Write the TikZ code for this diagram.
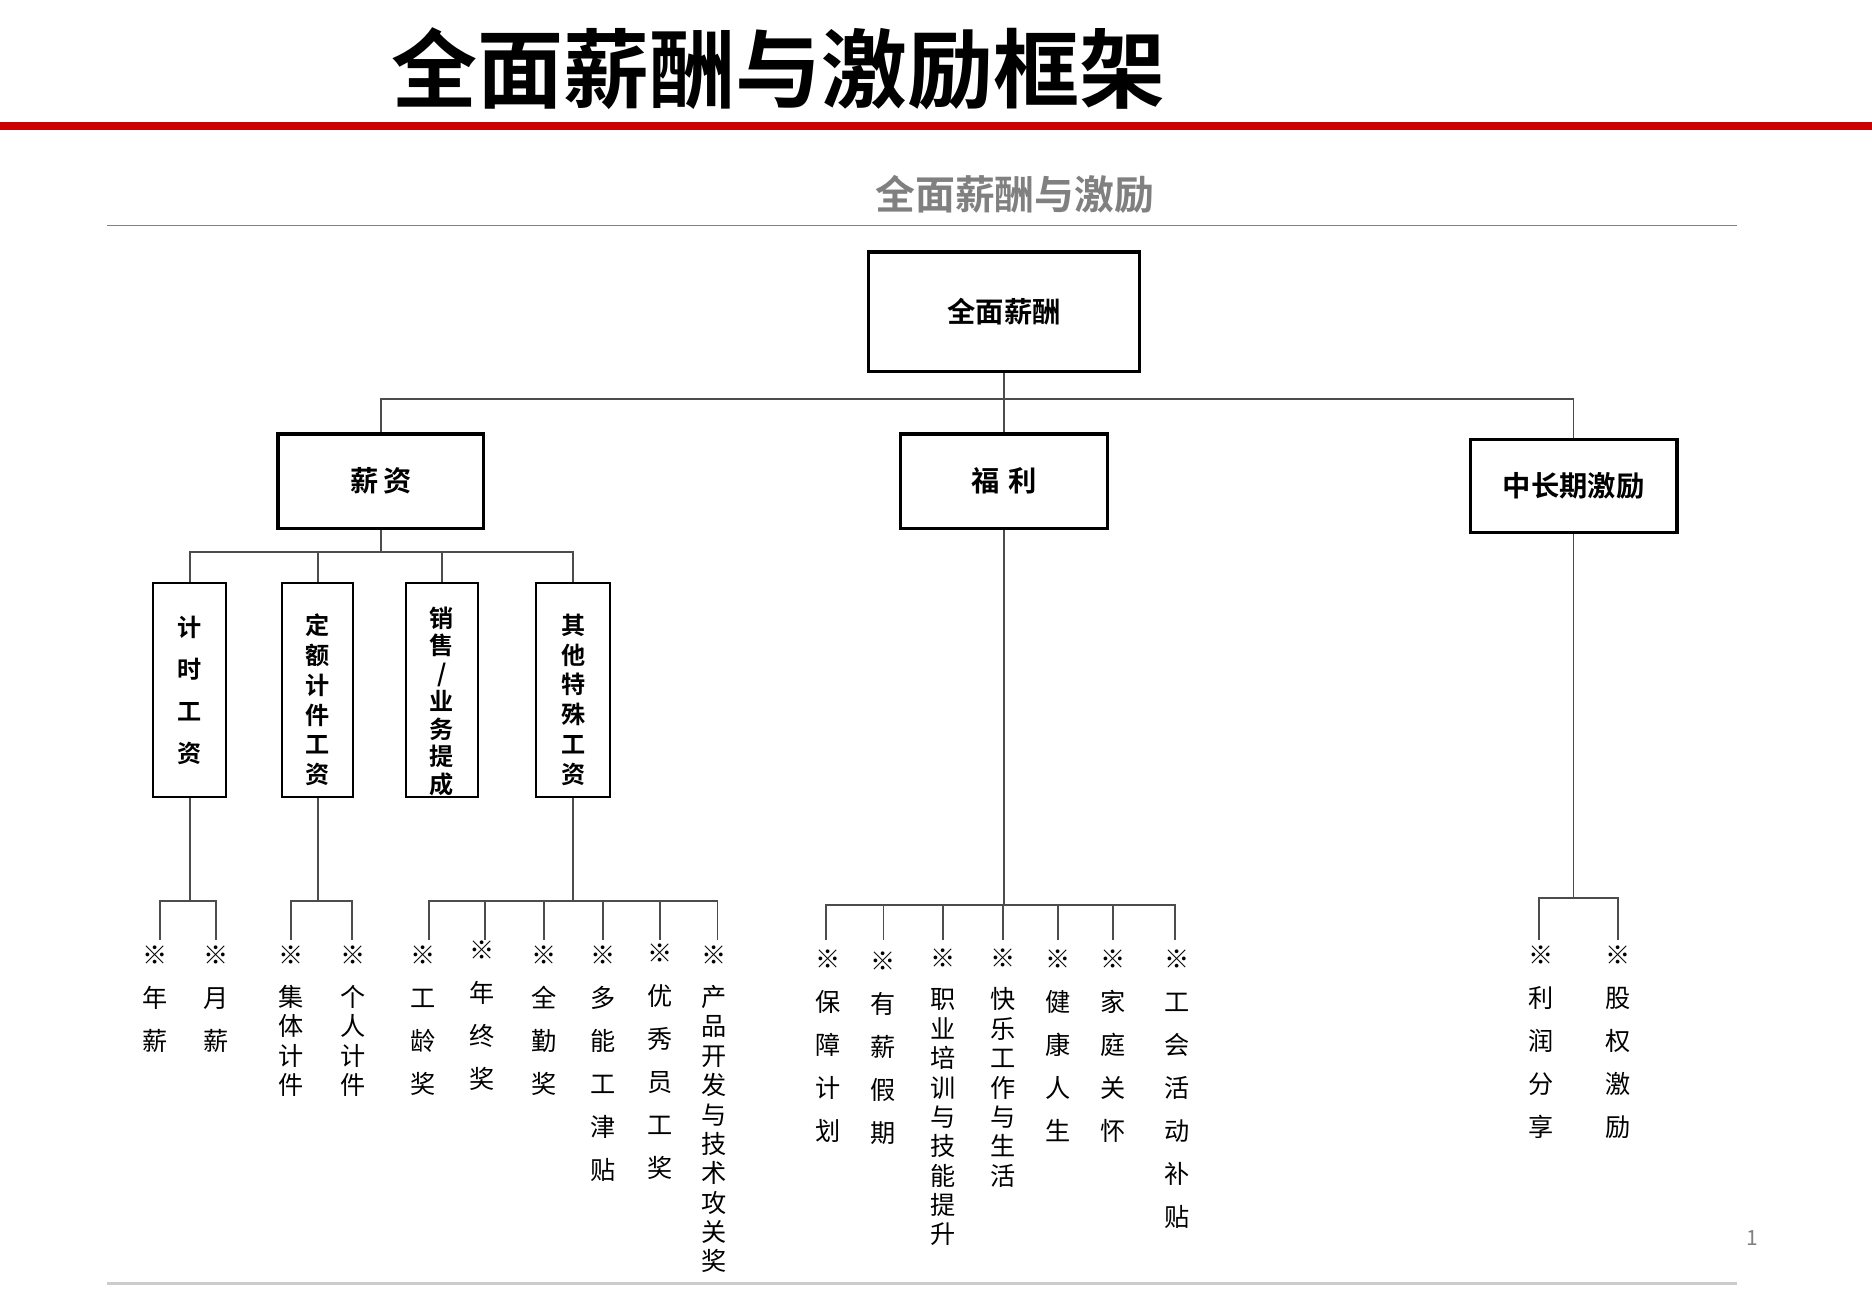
\documentclass[tikz,border=0pt]{standalone}
\usepackage{fontspec}
\setmainfont{Noto Sans CJK SC}
\newfontfamily\cjkb{Noto Sans CJK SC Bold}
\begin{document}
\begin{tikzpicture}[x=0.02cm,y=-0.02cm,
  box/.style={draw,line width=1.6pt,inner sep=0pt,font=\cjkb\fontsize{13.5}{15}\selectfont},
  vbox/.style={draw,line width=1pt,inner sep=0pt},
  ln/.style={line width=0.9pt,gray!60!black},
  leaf/.style={anchor=north,align=center,inner sep=0pt,font=\fontsize{12}{20.5}\selectfont},
  leafc/.style={anchor=north,align=center,inner sep=0pt,font=\fontsize{12}{14}\selectfont}]
\useasboundingbox (0,0) rectangle (1568,1086);
\node[font=\cjkb\fontsize{41}{44}\selectfont] (title) at (652,58) {全面薪酬与激励框架};
\fill[red!80!black] (0,102) rectangle (1568,109);
\node[font=\cjkb\fontsize{19}{21}\selectfont,text=gray] (sub) at (850,163) {全面薪酬与激励};
\draw[gray,line width=0.8pt] (90,189) -- (1455,189);
\draw[gray!40,line width=1.5pt] (90,1075) -- (1455,1075);
\node[text=gray,font=\fontsize{10}{12}\selectfont] (pg) at (1468,1037) {1};

\node[box,minimum width=227*0.02cm,minimum height=100*0.02cm] (root) at (841,261) {全面薪酬};
\node[box,minimum width=172*0.02cm,minimum height=79*0.02cm] (xz) at (319,403) {薪\,资};
\node[box,minimum width=173*0.02cm,minimum height=79*0.02cm] (fl) at (841,403) {福\,\,利};
\node[box,minimum width=173*0.02cm,minimum height=78*0.02cm] (cq) at (1318,407) {中长期激励};
\draw[ln] (root.south) -- (fl.north);
\draw[ln] (xz.north) -- (319,334) -- (1318,334) -- (cq.north);

% salary sub boxes
\node[vbox,minimum width=61*0.02cm,minimum height=179*0.02cm] (b1) at (159,578) {};
\node[vbox,minimum width=60*0.02cm,minimum height=179*0.02cm] (b2) at (266,578) {};
\node[vbox,minimum width=60*0.02cm,minimum height=179*0.02cm] (b3) at (370,578) {};
\node[vbox,minimum width=62*0.02cm,minimum height=179*0.02cm] (b4) at (480,578) {};
\node[anchor=north,align=center,font=\cjkb\fontsize{11.5}{20}\selectfont] (t1) at (159,510) {计\\时\\工\\资};
\node[anchor=north,align=center,font=\cjkb\fontsize{11.5}{14.2}\selectfont] (t2) at (266,508) {定\\额\\计\\件\\工\\资};
\node[anchor=north,align=center,font=\cjkb\fontsize{11.5}{13.2}\selectfont] (t3) at (370,502) {销\\售\\/\\业\\务\\提\\成};
\node[anchor=north,align=center,font=\cjkb\fontsize{11.5}{14.2}\selectfont] (t4) at (480,508) {其\\他\\特\\殊\\工\\资};
\draw[ln] (xz.south) -- (319,462);
\draw[ln] (b1.north) -- (159,462) -- (480,462) -- (b4.north);
\draw[ln] (b2.north) -- (266,462);
\draw[ln] (b3.north) -- (370,462);

% leaves groups
\draw[ln] (b1.south) -- (159,755);
\draw[ln] (134,787) -- (134,755) -- (181,755) -- (181,787);
\draw[ln] (b2.south) -- (266,755);
\draw[ln] (244,787) -- (244,755) -- (295,755) -- (295,787);
\draw[ln] (b4.south) -- (480,755);
\draw[ln] (359,787) -- (359,755) -- (601,755) -- (601,787);
\foreach \x in {406,456,505,553} \draw[ln] (\x,755) -- (\x,787);
\draw[ln] (fl.south) -- (841,758);
\draw[ln] (692,787) -- (692,758) -- (984,758) -- (984,787);
\foreach \x in {740,790,840,886,932} \draw[ln] (\x,758) -- (\x,787);
\draw[ln] (cq.south) -- (1318,752);
\draw[ln] (1289,787) -- (1289,752) -- (1355,752) -- (1355,787);

\node[leaf] (l1) at (130,792) {※\\年\\薪};
\node[leaf] (l2) at (181,792) {※\\月\\薪};
\node[leafc] (l3) at (244,792) {※\\[6pt]集\\体\\计\\件};
\node[leafc] (l4) at (296,792) {※\\[6pt]个\\人\\计\\件};
\node[leaf] (l5) at (354,792) {※\\工\\龄\\奖};
\node[leaf] (l6) at (404,788) {※\\年\\终\\奖};
\node[leaf] (l7) at (456,792) {※\\全\\勤\\奖};
\node[leaf] (l8) at (505,792) {※\\多\\能\\工\\津\\贴};
\node[leaf] (l9) at (553,790) {※\\优\\秀\\员\\工\\奖};
\node[leafc] (l10) at (598,792) {※\\[6pt]产\\品\\开\\发\\与\\技\\术\\攻\\关\\奖};
\node[leaf] (m1) at (694,795) {※\\保\\障\\计\\划};
\node[leaf] (m2) at (740,797) {※\\有\\薪\\假\\期};
\node[leafc] (m3) at (790,794) {※\\[6pt]职\\业\\培\\训\\与\\技\\能\\提\\升};
\node[leafc] (m4) at (840,794) {※\\[6pt]快\\乐\\工\\作\\与\\生\\活};
\node[leaf] (m5) at (886,795) {※\\健\\康\\人\\生};
\node[leaf] (m6) at (932,795) {※\\家\\庭\\关\\怀};
\node[leaf] (m7) at (986,795) {※\\工\\会\\活\\动\\补\\贴};
\node[leaf] (n1) at (1291,792) {※\\利\\润\\分\\享};
\node[leaf] (n2) at (1355,792) {※\\股\\权\\激\\励};
\end{tikzpicture}
\end{document}
